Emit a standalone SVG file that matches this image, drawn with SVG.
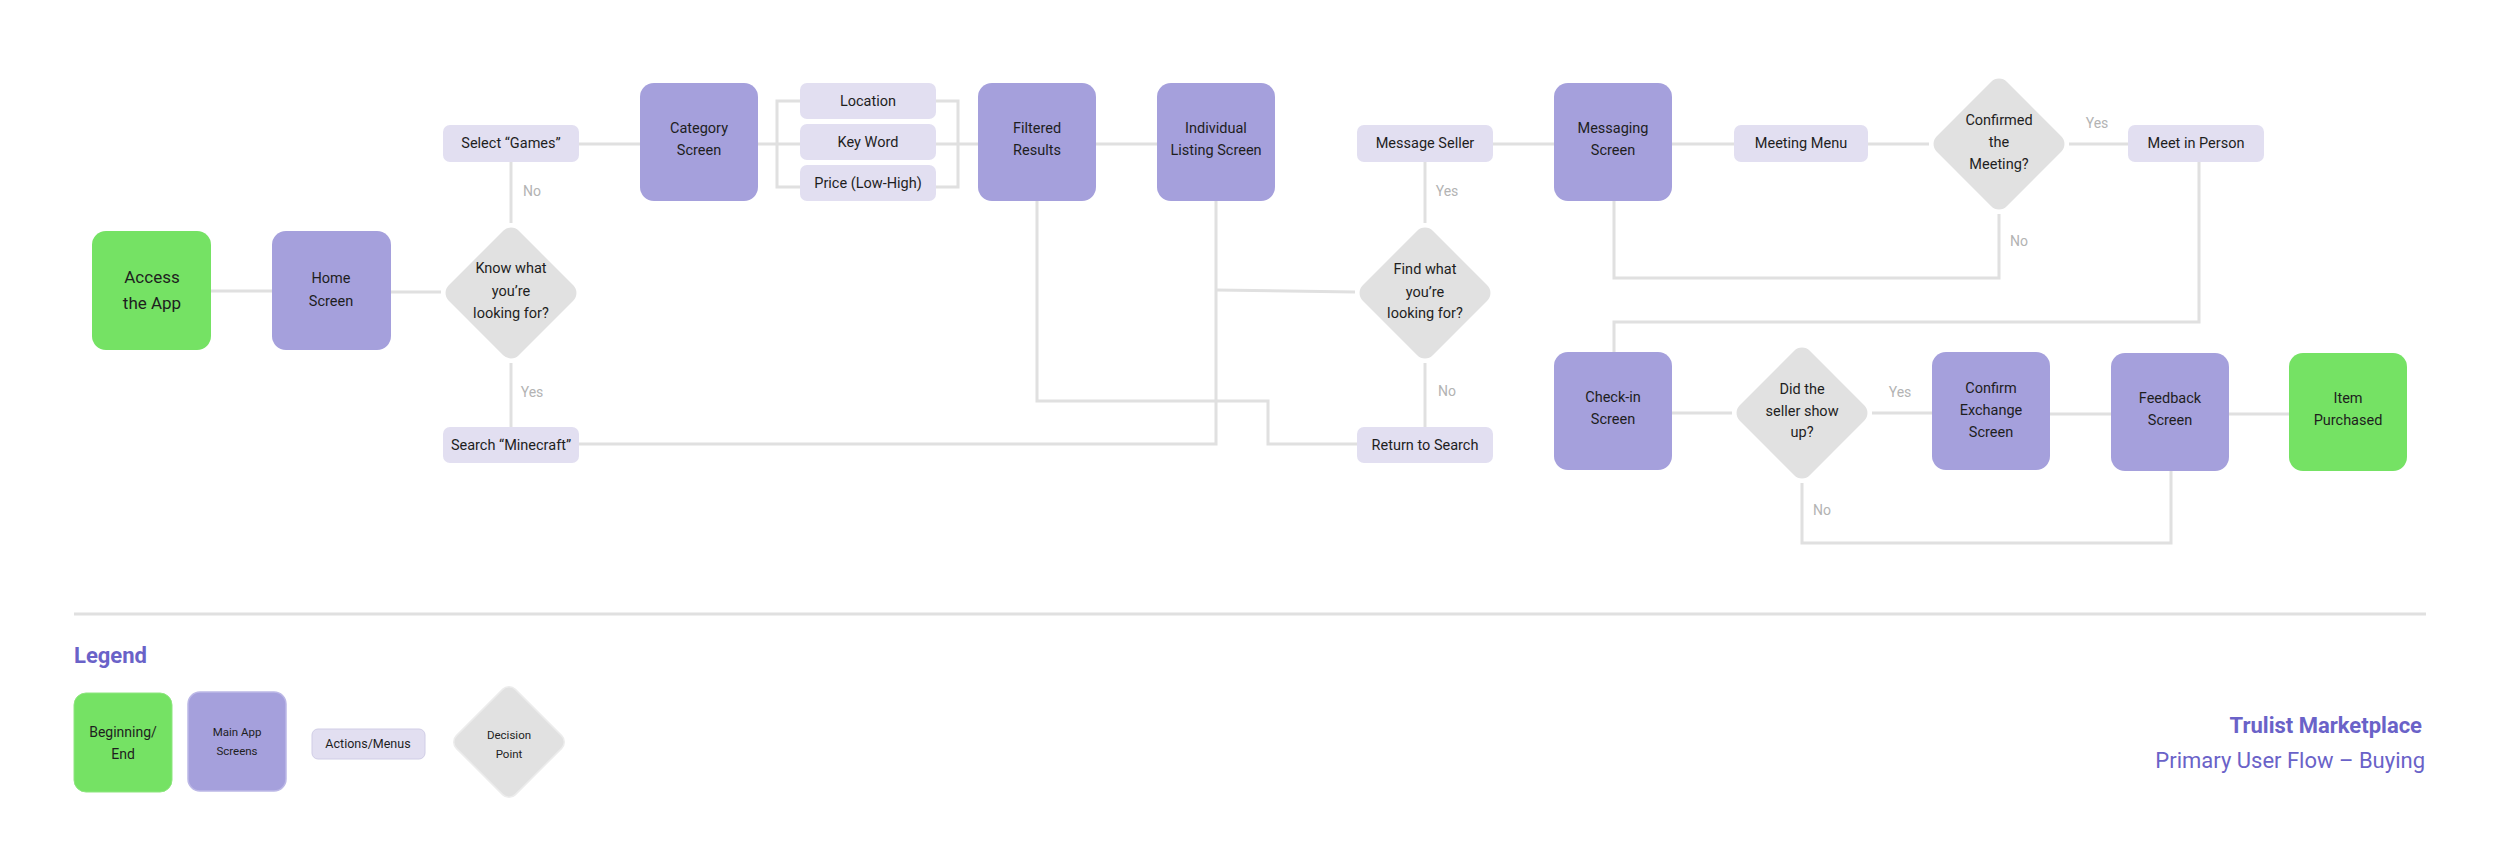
<svg xmlns="http://www.w3.org/2000/svg" width="2500" height="863" viewBox="0 0 2500 863">
<style>
  text { font-family: Roboto, "Liberation Sans", sans-serif; fill: #1e1e1e; text-anchor: middle; }
  .t { font-size: 14.5px; }
  .tb { font-size: 17px; }
  .lbl { font-size: 14px; fill: #b3b3b3; }
  .lg { font-size: 12.5px; }
  .start { fill: #75e264; }
  .screen { fill: #a5a0dc; }
  .action { fill: #e2dff1; }
  .dec { fill: #e1e1e1; }
  .conn { fill: none; stroke: #e0e0e0; stroke-width: 3; }
  .title { fill: #6a62c8; font-weight: bold; }
</style>
<defs>
  <rect id="dia" x="-49.5" y="-49.5" width="99" height="99" rx="11"/>
  <rect id="diaS" x="-41.7" y="-41.7" width="83.4" height="83.4" rx="9"/>
</defs>
<rect width="2500" height="863" fill="#ffffff"/>

<g id="connectors" class="conn">
  <path d="M211 291 H272"/>
  <path d="M391 292 H441"/>
  <path d="M511 223 V162"/>
  <path d="M511 363 V427"/>
  <path d="M579 144 H640"/>
  <path d="M758 144 H978"/>
  <path d="M800 101 H777 V187 H800"/>
  <path d="M936 101 H958 V187 H936"/>
  <path d="M1096 144 H1157"/>
  <path d="M579 444 H1216 V201"/>
  <path d="M1216 290 L1355 292"/>
  <path d="M1037 201 V401 H1268 V444 H1357"/>
  <path d="M1425 223 V162"/>
  <path d="M1425 363 V427"/>
  <path d="M1493 144 H1554"/>
  <path d="M1672 144 H1734"/>
  <path d="M1868 144 H1929"/>
  <path d="M2069 144 H2128"/>
  <path d="M1614 201 V278 H1999 V214"/>
  <path d="M2199 162 V322 H1614 V352"/>
  <path d="M1672 413 H1732"/>
  <path d="M1872 413 H1932"/>
  <path d="M2050 414 H2111"/>
  <path d="M2229 414 H2289"/>
  <path d="M1802 483 V543 H2171 V471"/>
</g>

<g id="edge-labels" class="lbl">
  <text x="532" y="196" class="lbl">No</text>
  <text x="532" y="397" class="lbl">Yes</text>
  <text x="1447" y="196" class="lbl">Yes</text>
  <text x="1447" y="396" class="lbl">No</text>
  <text x="2097" y="128" class="lbl">Yes</text>
  <text x="2019" y="246" class="lbl">No</text>
  <text x="1900" y="397" class="lbl">Yes</text>
  <text x="1822" y="515" class="lbl">No</text>
</g>

<g id="access-app">
  <rect class="start" x="92" y="231" width="119" height="119" rx="14"/>
  <text class="tb" x="152" y="283">Access</text>
  <text class="tb" x="152" y="309">the App</text>
</g>
<g id="home-screen">
  <rect class="screen" x="272" y="231" width="119" height="119" rx="14"/>
  <text class="t" x="331" y="283">Home</text>
  <text class="t" x="331" y="306">Screen</text>
</g>
<g id="know-what">
  <use href="#dia" class="dec" transform="translate(511 293) rotate(45)"/>
  <text class="t" x="511" y="273">Know what</text>
  <text class="t" x="511" y="296">you’re</text>
  <text class="t" x="511" y="318">looking for?</text>
</g>
<g id="select-games">
  <rect class="action" x="443" y="125" width="136" height="37" rx="7"/>
  <text class="t" x="511" y="148">Select “Games”</text>
</g>
<g id="search-minecraft">
  <rect class="action" x="443" y="427" width="136" height="36" rx="7"/>
  <text class="t" x="511" y="450">Search “Minecraft”</text>
</g>
<g id="category-screen">
  <rect class="screen" x="640" y="83" width="118" height="118" rx="14"/>
  <text class="t" x="699" y="133">Category</text>
  <text class="t" x="699" y="155">Screen</text>
</g>
<g id="filter-location">
  <rect class="action" x="800" y="83" width="136" height="36" rx="7"/>
  <text class="t" x="868" y="106">Location</text>
</g>
<g id="filter-keyword">
  <rect class="action" x="800" y="124" width="136" height="36" rx="7"/>
  <text class="t" x="868" y="147">Key Word</text>
</g>
<g id="filter-price">
  <rect class="action" x="800" y="165" width="136" height="36" rx="7"/>
  <text class="t" x="868" y="188">Price (Low-High)</text>
</g>
<g id="filtered-results">
  <rect class="screen" x="978" y="83" width="118" height="118" rx="14"/>
  <text class="t" x="1037" y="133">Filtered</text>
  <text class="t" x="1037" y="155">Results</text>
</g>
<g id="individual-listing">
  <rect class="screen" x="1157" y="83" width="118" height="118" rx="14"/>
  <text class="t" x="1216" y="133">Individual</text>
  <text class="t" x="1216" y="155">Listing Screen</text>
</g>
<g id="message-seller">
  <rect class="action" x="1357" y="125" width="136" height="37" rx="7"/>
  <text class="t" x="1425" y="148">Message Seller</text>
</g>
<g id="find-what">
  <use href="#dia" class="dec" transform="translate(1425 293) rotate(45)"/>
  <text class="t" x="1425" y="274">Find what</text>
  <text class="t" x="1425" y="297">you’re</text>
  <text class="t" x="1425" y="318">looking for?</text>
</g>
<g id="return-search">
  <rect class="action" x="1357" y="427" width="136" height="36" rx="7"/>
  <text class="t" x="1425" y="450">Return to Search</text>
</g>
<g id="messaging-screen">
  <rect class="screen" x="1554" y="83" width="118" height="118" rx="14"/>
  <text class="t" x="1613" y="133">Messaging</text>
  <text class="t" x="1613" y="155">Screen</text>
</g>
<g id="meeting-menu">
  <rect class="action" x="1734" y="125" width="134" height="37" rx="7"/>
  <text class="t" x="1801" y="148">Meeting Menu</text>
</g>
<g id="confirmed-meeting">
  <use href="#dia" class="dec" transform="translate(1999 144) rotate(45)"/>
  <text class="t" x="1999" y="125">Confirmed</text>
  <text class="t" x="1999" y="147">the</text>
  <text class="t" x="1999" y="169">Meeting?</text>
</g>
<g id="meet-in-person">
  <rect class="action" x="2128" y="125" width="136" height="37" rx="7"/>
  <text class="t" x="2196" y="148">Meet in Person</text>
</g>
<g id="check-in">
  <rect class="screen" x="1554" y="352" width="118" height="118" rx="14"/>
  <text class="t" x="1613" y="402">Check-in</text>
  <text class="t" x="1613" y="424">Screen</text>
</g>
<g id="seller-show">
  <use href="#dia" class="dec" transform="translate(1802 413) rotate(45)"/>
  <text class="t" x="1802" y="394">Did the</text>
  <text class="t" x="1802" y="416">seller show</text>
  <text class="t" x="1802" y="437">up?</text>
</g>
<g id="confirm-exchange">
  <rect class="screen" x="1932" y="352" width="118" height="118" rx="14"/>
  <text class="t" x="1991" y="393">Confirm</text>
  <text class="t" x="1991" y="415">Exchange</text>
  <text class="t" x="1991" y="437">Screen</text>
</g>
<g id="feedback-screen">
  <rect class="screen" x="2111" y="353" width="118" height="118" rx="14"/>
  <text class="t" x="2170" y="403">Feedback</text>
  <text class="t" x="2170" y="425">Screen</text>
</g>
<g id="item-purchased">
  <rect class="start" x="2289" y="353" width="118" height="118" rx="14"/>
  <text class="t" x="2348" y="403">Item</text>
  <text class="t" x="2348" y="425">Purchased</text>
</g>

<line x1="74" y1="614" x2="2426" y2="614" stroke="#e0e0e0" stroke-width="3"/>

<g id="legend">
  <text class="title" x="74" y="663" style="text-anchor:start;font-size:22px">Legend</text>
  <rect class="start" x="74" y="693" width="98" height="99" rx="12" stroke="#8ee67f" stroke-width="1"/>
  <text x="123" y="737" style="font-size:14px">Beginning/</text>
  <text x="123" y="759" style="font-size:14px">End</text>
  <rect class="screen" x="188" y="692" width="98" height="99" rx="12" stroke="#bcb8e6" stroke-width="1.5"/>
  <text class="lg" x="237" y="736" style="font-size:11.5px">Main App</text>
  <text class="lg" x="237" y="755" style="font-size:11.5px">Screens</text>
  <rect class="action" x="312" y="729" width="113" height="30" rx="6" stroke="#d0cde6" stroke-width="1"/>
  <text class="lg" x="368" y="748">Actions/Menus</text>
  <use href="#diaS" class="dec" transform="translate(509 742) rotate(45)" stroke="#ececec" stroke-width="1.5"/>
  <text class="lg" x="509" y="739" style="font-size:11.5px">Decision</text>
  <text class="lg" x="509" y="758" style="font-size:11.5px">Point</text>
</g>

<g id="title">
  <text class="title" x="2422" y="733" style="text-anchor:end;font-size:22px">Trulist Marketplace</text>
  <text x="2425" y="768" style="text-anchor:end;font-size:22px;fill:#6a62c8">Primary User Flow – Buying</text>
</g>
</svg>
